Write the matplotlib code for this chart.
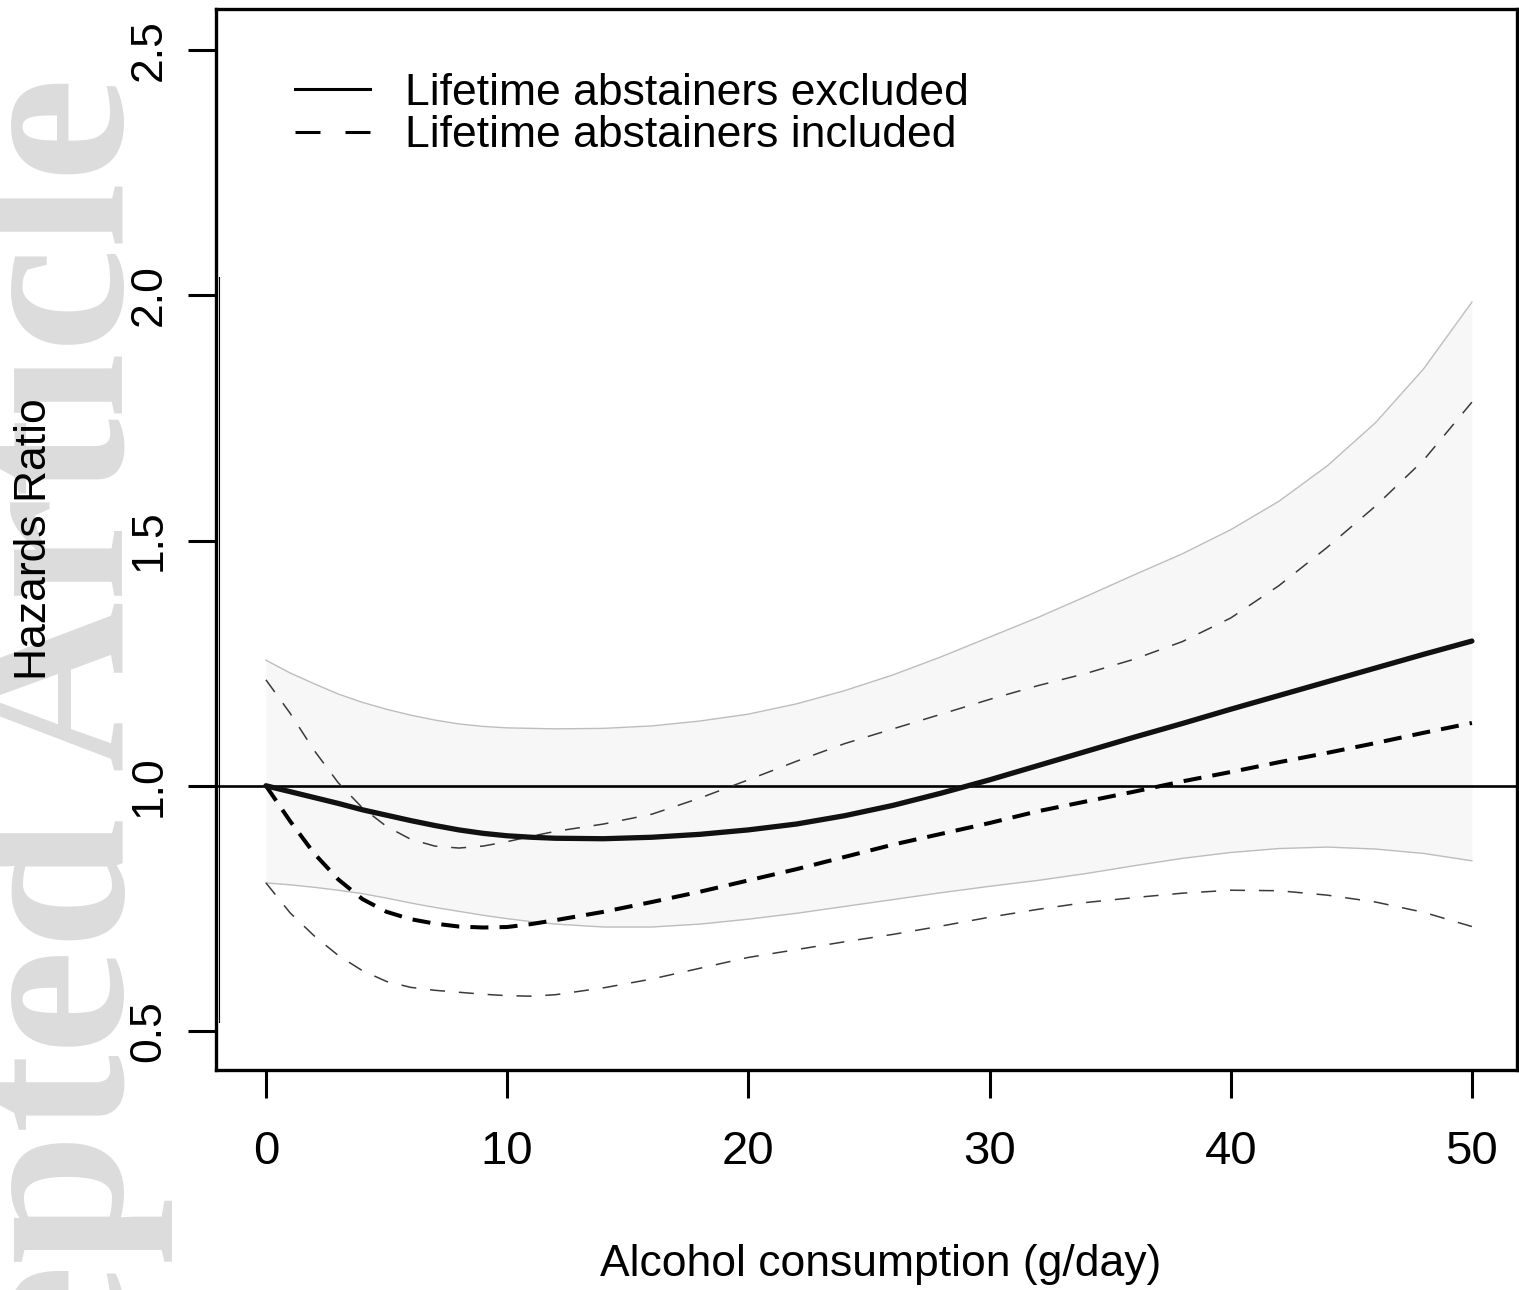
import matplotlib
matplotlib.use('Agg')
import matplotlib.pyplot as plt
from matplotlib.lines import Line2D

plt.rcParams['font.family'] = ['Liberation Sans', 'DejaVu Sans']
plt.rcParams['lines.scale_dashes'] = False

# alcohol consumption grid (g/day)
alcohol = [0, 1, 2, 3, 4, 5, 6, 7, 8, 9, 10, 11, 12, 14, 16, 18, 20, 22, 24, 26, 28, 30,
           32, 34, 36, 38, 40, 42, 44, 46, 48, 50]

# lifetime abstainers excluded: HR and 95% CI
hr_excl = [1.000, 0.988, 0.976, 0.964, 0.951, 0.940, 0.929, 0.919, 0.910, 0.903, 0.898, 0.895,
           0.893, 0.892, 0.895, 0.901, 0.910, 0.922, 0.939, 0.960, 0.985, 1.012,
           1.041, 1.070, 1.099, 1.127, 1.156, 1.184, 1.212, 1.240, 1.268, 1.295]
ci_excl_hi = [1.256, 1.230, 1.208, 1.187, 1.170, 1.156, 1.144, 1.134, 1.126, 1.121, 1.118, 1.117,
              1.116, 1.117, 1.122, 1.132, 1.146, 1.167, 1.194, 1.226, 1.263, 1.303,
              1.343, 1.386, 1.430, 1.473, 1.522, 1.580, 1.652, 1.740, 1.850, 1.986]
ci_excl_lo = [0.802, 0.798, 0.793, 0.787, 0.780, 0.771, 0.761, 0.752, 0.744, 0.736, 0.729, 0.723,
              0.718, 0.712, 0.712, 0.718, 0.728, 0.740, 0.754, 0.768, 0.782, 0.795,
              0.807, 0.821, 0.837, 0.852, 0.864, 0.872, 0.875, 0.871, 0.862, 0.847]

# lifetime abstainers included: HR and 95% CI
hr_incl = [1.000, 0.928, 0.862, 0.809, 0.769, 0.743, 0.728, 0.719, 0.713, 0.711, 0.712, 0.718,
           0.726, 0.743, 0.763, 0.784, 0.807, 0.830, 0.855, 0.880, 0.902, 0.924,
           0.948, 0.968, 0.988, 1.009, 1.028, 1.048, 1.067, 1.087, 1.108, 1.128]
ci_incl_hi = [1.216, 1.148, 1.072, 1.006, 0.955, 0.917, 0.891, 0.877, 0.873, 0.877, 0.886, 0.897,
              0.907, 0.922, 0.942, 0.975, 1.012, 1.050, 1.086, 1.116, 1.146, 1.176,
              1.204, 1.229, 1.258, 1.294, 1.342, 1.408, 1.486, 1.570, 1.664, 1.782]
ci_incl_lo = [0.802, 0.741, 0.694, 0.654, 0.623, 0.601, 0.589, 0.583, 0.579, 0.575, 0.572, 0.571,
              0.574, 0.588, 0.606, 0.628, 0.650, 0.666, 0.682, 0.697, 0.714, 0.732,
              0.748, 0.762, 0.772, 0.781, 0.787, 0.786, 0.777, 0.763, 0.742, 0.713]

x_ticks = [0, 10, 20, 30, 40, 50]
y_ticks = [0.5, 1.0, 1.5, 2.0, 2.5]
y_tick_labels = ['0.5', '1.0', '1.5', '2.0', '2.5']
legend_labels = ['Lifetime abstainers excluded', 'Lifetime abstainers included']

W, H = 1519, 1290
fig = plt.figure(figsize=(W / 100, H / 100), dpi=100)
ax = fig.add_axes([216 / W, 1 - 1070 / H, (1517 - 216) / W, (1070 - 9) / H])

# shaded CI band for the main model
ax.fill_between(alcohol, ci_excl_lo, ci_excl_hi, color='#f7f7f7', lw=0, zorder=1)
ax.plot(alcohol, ci_excl_hi, color='#bdbdbd', lw=1.0, zorder=2)
ax.plot(alcohol, ci_excl_lo, color='#bdbdbd', lw=1.0, zorder=2)

ax.axhline(1.0, color='black', lw=1.9, zorder=3)

ax.plot(alcohol, ci_incl_hi, color='#3a3a3a', lw=1.1, dashes=(10.8, 10), zorder=4)
ax.plot(alcohol, ci_incl_lo, color='#3a3a3a', lw=1.1, dashes=(10.8, 10), zorder=4)
ax.plot(alcohol, hr_incl, color='black', lw=2.9, dashes=(13, 8), zorder=5)
ax.plot(alcohol, hr_excl, color='#111111', lw=3.8, solid_capstyle='round', zorder=6)

ax.set_xlim(-2.07, 51.87)
ax.set_ylim(0.4205, 2.5836)

# stray thin rule near the left border (as in the scanned figure)
ax.axvline(-1.95, ymin=0.045, ymax=0.747, color='black', lw=0.8)

ax.set_xticks(x_ticks)
ax.set_yticks(y_ticks)
ax.set_yticklabels(y_tick_labels, rotation=90, va='center')
ax.tick_params(axis='both', direction='out', length=20, width=2.2, color='black')
ax.tick_params(axis='x', pad=23.5, labelsize=34)
ax.tick_params(axis='y', pad=13.5, labelsize=32)
for sp in ax.spines.values():
    sp.set_linewidth(2.4)

ax.set_xlabel('Alcohol consumption (g/day)', fontsize=32, labelpad=50)
ax.xaxis.label.set_x(0.511)
ax.set_ylabel('Hazards Ratio', fontsize=32, labelpad=53)

handles = [Line2D([], [], color='black', lw=2.2),
           Line2D([], [], color='black', lw=2.2, dashes=(18, 18))]
ax.legend(handles, legend_labels, loc='upper left', bbox_to_anchor=(295 / W, 1 - 73 / H),
          bbox_transform=fig.transFigure, frameon=False, fontsize=32, handlelength=1.69,
          handletextpad=0.79, borderpad=0, labelspacing=0.03, borderaxespad=0)

# journal watermark
fig.text(123 / W, 1 - 77 / H, 'Accepted Article', rotation=90, rotation_mode='anchor',
         ha='right', va='baseline', fontsize=170, family='Liberation Serif',
         fontweight='bold', color='#dcdcdc', zorder=-1)

fig.savefig('out.png', dpi=100)
